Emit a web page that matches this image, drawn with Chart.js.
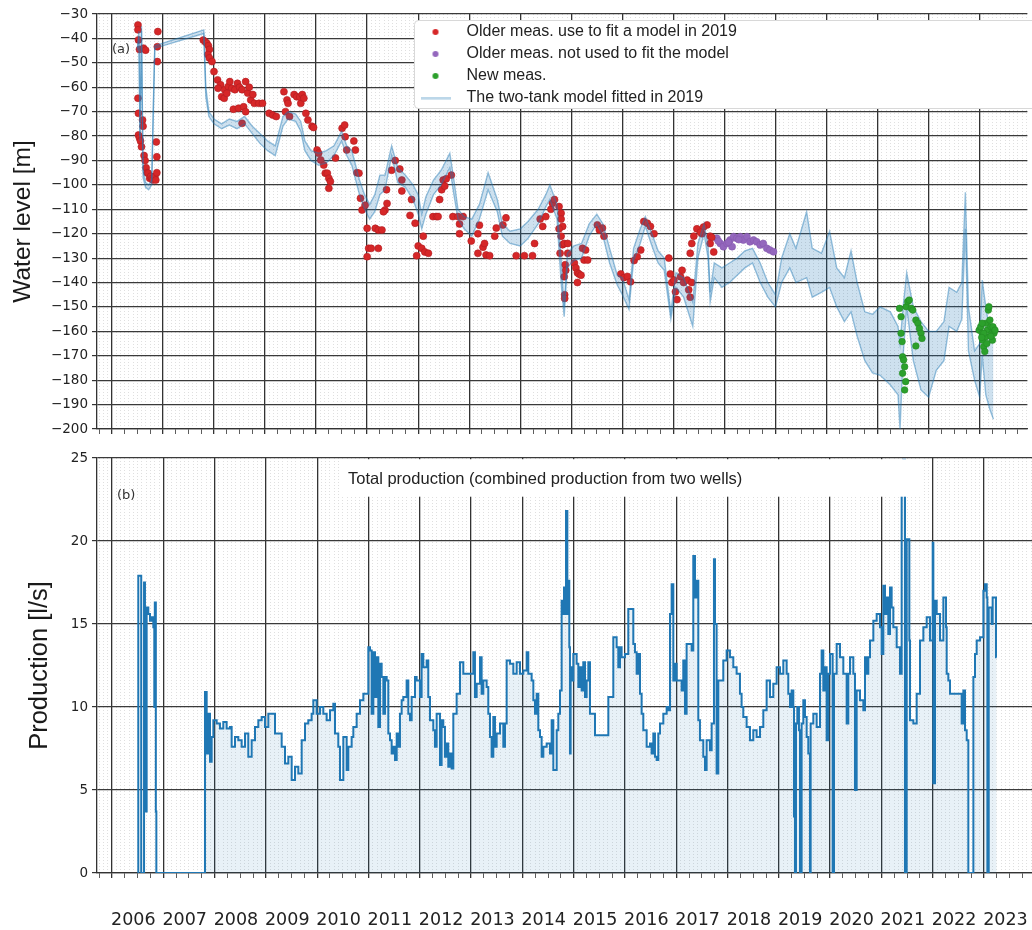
<!DOCTYPE html>
<html>
<head>
<meta charset="utf-8">
<script src="https://cdn.jsdelivr.net/npm/chart.js"></script>
<style>
  html, body { margin: 0; padding: 0; background: #fff; }
  #wrap { position: relative; width: 1032px; height: 930px; overflow: hidden; }
  #levelChart { position: absolute; left: 0; top: 0; }
  #prodChart { position: absolute; left: 0; top: 440px; }
</style>
</head>
<body>
<div id="wrap">
  <canvas id="levelChart" width="1032" height="445"></canvas>
  <canvas id="prodChart" width="1032" height="490"></canvas>
</div>
<script>
// year labels under the lower panel
const yearLabels = ['2006', '2007', '2008', '2009', '2010', '2011', '2012', '2013', '2014',
  '2015', '2016', '2017', '2018', '2019', '2020', '2021', '2022', '2023'];

// water level measurements [year, level m]
const olderFit = [
  [2006.51,-34.5],[2006.51,-36.5],[2006.52,-40.6],[2006.54,-44.5],[2006.62,-44],[2006.66,-44.8],
  [2006.51,-64.5],[2006.52,-70.7],[2006.52,-79.6],[2006.54,-80.8],[2006.56,-82],[2006.58,-84.4],
  [2006.60,-73.4],[2006.61,-76],[2006.63,-88],[2006.65,-90],[2006.67,-93],[2006.69,-95],
  [2006.71,-95.2],[2006.74,-97.3],[2006.76,-96.5],[2006.78,-97.5],[2006.80,-98],[2006.84,-96.5],
  [2006.86,-98],[2006.88,-95],[2006.88,-88.5],[2006.87,-82.4],[2006.90,-37.2],[2006.89,-43.4],[2006.89,-49.5],
  [2007.79,-40.7],[2007.83,-41.4],[2007.86,-42],[2007.89,-43],[2007.91,-44.5],[2007.88,-46.6],
  [2007.91,-48],[2007.96,-49.5],[2008.00,-53.6],[2008.07,-57],[2008.13,-59],[2008.08,-60.4],
  [2008.15,-63.9],[2008.21,-61],[2008.28,-59.7],[2008.31,-57.7],[2008.35,-60.4],[2008.41,-61],
  [2008.46,-58.4],[2008.50,-60],[2008.55,-61],[2008.62,-57.7],[2008.66,-62.4],[2008.69,-60],
  [2008.72,-65.2],[2008.76,-63],[2008.79,-66.6],[2008.88,-66.6],[2008.95,-66.6],[2008.38,-69],
  [2008.48,-68.6],[2008.58,-68],[2008.62,-70],[2008.55,-74.8],[2008.20,-64.5],[2008.25,-62.5],
  [2009.08,-70.7],[2009.15,-71.4],[2009.22,-72],[2009.37,-61.8],[2009.43,-65.2],[2009.45,-66.6],
  [2009.40,-70],[2009.48,-72],[2009.57,-63],[2009.62,-63.9],[2009.70,-66.6],[2009.68,-64],
  [2009.73,-63],[2009.76,-64.5],[2009.80,-70.7],[2009.84,-73.4],[2009.92,-76],[2009.95,-76.5],
  [2010.02,-85.7],[2010.05,-87],[2010.09,-89.8],[2010.15,-91.9],[2010.18,-95.2],[2010.22,-95.2],
  [2010.25,-97.3],[2010.28,-98.6],[2010.25,-101.4],[2010.38,-89],[2010.51,-76.8],[2010.56,-75.5],
  [2010.57,-80.3],[2010.60,-85.7],[2010.74,-82],[2010.77,-85.7],[2010.80,-95],[2010.84,-95.2],
  [2010.87,-105.5],[2010.90,-110.3],[2010.96,-108.3],[2011.00,-117.8],[2011.03,-126],[2011.00,-129.4],
  [2011.08,-126],[2011.16,-117.8],[2011.22,-118.5],[2011.29,-118.5],[2011.35,-110.3],[2011.39,-107.6],
  [2011.22,-126],[2011.32,-111],[2011.38,-102],[2011.48,-94],[2011.55,-90],[2011.64,-93.5],
  [2011.68,-98],[2011.68,-102.5],[2011.87,-106],[2011.84,-112.5],[2011.94,-115.7],[2012.10,-121],
  [2012.00,-125],[2011.97,-129],[2012.07,-126],[2012.13,-127.5],[2012.20,-128],
  [2012.42,-106],[2012.46,-102],[2012.49,-98],[2012.52,-100.5],[2012.55,-97.5],[2012.65,-96],
  [2012.29,-113],[2012.36,-113],[2012.39,-113],[2012.68,-113],[2012.78,-113],[2012.88,-113],
  [2012.81,-116],[2012.81,-120],
  [2013.04,-123],[2013.17,-128],[2013.27,-125.5],[2013.30,-124],[2013.33,-128.7],[2013.40,-129],
  [2013.20,-116.5],[2013.17,-120],[2013.50,-121],[2013.53,-117.7],[2013.66,-116.4],[2013.72,-113.5],
  [2013.92,-129],[2014.08,-129],[2014.24,-129],[2014.28,-124],[2014.39,-114],[2014.44,-117],
  [2014.50,-113],[2014.60,-110],[2014.63,-107.5],[2014.67,-106],[2014.76,-108.9],[2014.80,-111.6],
  [2014.80,-114],[2014.83,-117],[2014.76,-118],[2014.80,-121],[2014.83,-124.5],[2014.78,-128],
  [2014.86,-124],[2014.93,-124],[2014.93,-128],[2014.88,-132.7],[2014.86,-137.6],[2014.87,-145],
  [2014.87,-146.5],[2014.89,-135],
  [2015.06,-132],[2015.09,-134],[2015.12,-136],[2015.12,-140],[2015.15,-136.5],[2015.19,-137],
  [2015.22,-126],[2015.28,-126.7],[2015.25,-130.8],[2015.32,-130.8],[2015.51,-116.4],[2015.61,-117.7],
  [2015.64,-121],[2015.55,-118.5],
  [2015.97,-136.5],[2016.03,-138],[2016.10,-137.5],[2016.16,-139.7],[2016.23,-131],[2016.29,-129.4],
  [2016.36,-126.7],[2016.42,-115],[2016.49,-115.7],[2016.55,-117],[2016.62,-120],
  [2016.91,-130],[2016.94,-136.5],[2016.97,-140],[2017.04,-143.8],[2017.01,-139],[2017.07,-147],
  [2017.14,-137.6],[2017.17,-135],[2017.20,-140],[2017.27,-139],[2017.30,-143],[2017.33,-146],
  [2017.36,-140],[2017.33,-128],[2017.36,-124],[2017.40,-121],[2017.46,-118],[2017.56,-120],
  [2017.66,-116.4],[2017.72,-121],[2017.59,-117.3],[2017.75,-121.5],[2017.79,-127.5],[2017.72,-124],[2017.53,-119.4]
];

const olderNotUsed = [
  [2017.85,-121.9],[2017.92,-124],[2017.98,-125.3],[2018.05,-124],[2018.11,-122.6],[2018.15,-125.3],
  [2018.18,-121.2],[2018.24,-121.9],[2018.31,-121.2],[2018.37,-122.6],[2018.44,-121.2],[2018.50,-123.3],
  [2018.57,-122.6],[2018.63,-123.3],[2018.70,-124.6],[2018.76,-124],[2018.83,-126],[2018.89,-126.7],
  [2018.96,-127.4],[2017.88,-123],[2018.08,-123.5],[2018.28,-122.4]
];

const newMeas = [
  [2021.43,-150.6],[2021.46,-154],[2021.46,-160.8],[2021.48,-164.2],[2021.49,-170.4],[2021.51,-171.7],
  [2021.53,-174.5],[2021.49,-177.2],[2021.55,-180.6],[2021.53,-184],[2021.56,-149.9],[2021.59,-147.8],
  [2021.62,-147.2],[2021.66,-150.6],[2021.69,-151.3],[2021.75,-155.4],[2021.79,-156.7],[2021.82,-158.8],
  [2021.85,-160.8],[2021.87,-162.9],[2021.75,-166],
  [2022.99,-159.5],[2023.02,-158.1],[2023.05,-160.8],[2023.06,-163.6],[2023.08,-166.3],[2023.10,-168.3],
  [2023.12,-162.2],[2023.13,-156.7],[2023.15,-159.5],[2023.17,-151.3],[2023.18,-149.9],[2023.20,-155.4],
  [2023.22,-158.1],[2023.24,-160.8],[2023.25,-163.6],[2023.26,-158.1],[2023.28,-160.8],[2023.30,-159.5],
  [2023.05,-156.7],[2023.08,-160.8],[2023.14,-165],[2023.22,-162],[2023.04,-162.5]
];

// two-tank model envelope [year, upper, lower]
const modelBand = [
  [2006.50,-44,-45],[2006.53,-37,-39],[2006.55,-80,-82],[2006.58,-35,-37],[2006.61,-94,-97],
  [2006.66,-99,-101],[2006.72,-100,-102],[2006.78,-98,-100],[2006.82,-60,-62],[2006.84,-43,-44],
  [2007.80,-36.5,-38],[2007.84,-60,-64],[2007.90,-70,-72],[2008.00,-73,-75],[2008.15,-75,-77],
  [2008.30,-73,-75.5],[2008.45,-74,-77],[2008.60,-72,-75],[2008.75,-76,-79],[2008.90,-79,-83],
  [2009.05,-82,-86],[2009.20,-84,-88],[2009.35,-72,-76],[2009.45,-70,-73],[2009.60,-71,-74],
  [2009.70,-74,-78],[2009.78,-82,-86],[2009.90,-86,-90],[2010.05,-87,-92],[2010.20,-86,-91],
  [2010.35,-84,-88],[2010.50,-78,-82],[2010.60,-84,-88],[2010.70,-86,-92],[2010.85,-98,-104],
  [2010.95,-104,-110],[2011.05,-108,-114],[2011.15,-104,-111],[2011.25,-96,-104],[2011.35,-96,-102],
  [2011.48,-84,-88],[2011.60,-93,-99],[2011.75,-96,-101],[2011.90,-100,-106],[2012.00,-104,-112],
  [2012.07,-112,-118],[2012.15,-105,-112],[2012.30,-98,-104],[2012.45,-94,-100],[2012.62,-87,-93],
  [2012.70,-98,-104],[2012.78,-110,-114],[2012.90,-113,-118],[2013.05,-114,-121],[2013.20,-108,-114],
  [2013.37,-95,-102],[2013.55,-106,-111],[2013.65,-116,-121],[2013.80,-119,-124],[2014.00,-118,-125],
  [2014.15,-115,-122],[2014.35,-110,-116],[2014.50,-104,-109],[2014.58,-100,-106],[2014.72,-108,-114],
  [2014.80,-130,-140],[2014.86,-150,-154],[2014.92,-128,-134],[2015.05,-125,-131],[2015.20,-124,-130],
  [2015.35,-116,-121],[2015.50,-112,-116],[2015.62,-116,-121],[2015.75,-126,-132],[2015.90,-137,-141],
  [2016.00,-138,-145],[2016.13,-147,-151],[2016.22,-126,-131],[2016.35,-118,-124],[2016.45,-113,-117],
  [2016.58,-120,-125],[2016.70,-127,-132],[2016.82,-130,-135],[2016.95,-152,-155],[2017.05,-136,-142],
  [2017.20,-138,-146],[2017.38,-148,-158],[2017.48,-124,-130],[2017.60,-116,-120],[2017.68,-125,-130],
  [2017.72,-144,-148],[2017.80,-132,-138],[2017.95,-134,-142],[2018.10,-132,-140],[2018.25,-130,-137],
  [2018.40,-127,-134],[2018.55,-126,-132],[2018.70,-132,-140],[2018.85,-140,-146],[2019.00,-145,-150],
  [2019.12,-130,-140],[2019.28,-120,-134],[2019.40,-126,-140],[2019.61,-111,-138],[2019.72,-126,-146],
  [2019.90,-128,-144],[2020.06,-119,-142],[2020.20,-134,-150],[2020.35,-138,-156],[2020.48,-127,-152],
  [2020.60,-140,-162],[2020.75,-152,-172],[2020.90,-153,-177],[2021.05,-150,-178],[2021.25,-152,-182],
  [2021.40,-158,-186],[2021.44,-165,-200],[2021.50,-150,-170],[2021.57,-136,-150],[2021.70,-150,-172],
  [2021.85,-156,-184],[2022.00,-160,-187],[2022.15,-160,-176],[2022.30,-156,-172],[2022.40,-142,-158],
  [2022.55,-144,-160],[2022.65,-140,-155],[2022.72,-103,-118],[2022.78,-150,-168],[2022.90,-168,-180],
  [2023.00,-165,-187],[2023.05,-139,-170],[2023.12,-150,-186],[2023.20,-160,-192],[2023.27,-163,-196]
];

// total production [year, l/s], step values
const production = [
  [2006.50,0],[2006.513,17.9],[2006.57,0],[2006.625,17.5],[2006.643,3.7],[2006.676,16.0],[2006.708,15.6],
  [2006.741,15.2],[2006.773,15.4],[2006.806,14.8],[2006.825,10.0],[2006.835,16.3],[2006.855,3.7],[2006.865,0],
  [2007.81,0],
  [2007.813,10.9],[2007.846,7.2],[2007.878,9.6],[2007.911,6.7],[2007.943,8.2],[2007.976,9.2],[2008.041,9.0],
  [2008.105,8.7],[2008.170,9.1],[2008.235,8.7],[2008.300,8.8],[2008.333,7.6],[2008.398,8.2],[2008.463,8.0],
  [2008.528,7.6],[2008.593,8.4],[2008.658,7.0],[2008.723,8.0],[2008.788,8.8],[2008.853,9.2],[2008.918,9.4],
  [2008.983,8.8],[2009.048,9.6],[2009.113,9.6],[2009.178,8.4],[2009.243,8.4],[2009.308,7.6],[2009.373,6.6],
  [2009.438,7.0],[2009.503,5.6],[2009.568,6.4],[2009.633,6.0],[2009.698,8.0],[2009.763,9.0],[2009.827,9.2],
  [2009.892,9.6],[2009.925,10.4],[2009.990,9.6],[2010.055,10.0],[2010.120,9.6],[2010.185,9.2],[2010.250,9.8],
  [2010.315,10.2],[2010.347,8.4],[2010.412,7.6],[2010.445,5.6],[2010.510,8.2],[2010.575,6.2],[2010.607,7.6],
  [2010.672,8.2],[2010.705,8.8],[2010.770,9.6],[2010.835,10.4],[2010.900,10.8],[2010.997,13.6],[2011.030,13.4],
  [2011.062,9.6],[2011.095,13.3],[2011.127,10.6],[2011.160,13.0],[2011.192,8.8],[2011.225,12.6],[2011.257,11.8],
  [2011.290,9.6],[2011.322,11.8],[2011.355,11.6],[2011.387,8.4],[2011.420,8.0],[2011.452,7.2],[2011.484,7.6],
  [2011.517,6.8],[2011.550,8.4],[2011.582,7.6],[2011.614,9.6],[2011.647,10.4],[2011.679,10.6],[2011.744,11.6],
  [2011.777,9.6],[2011.809,9.2],[2011.842,10.6],[2011.907,11.8],
  [2011.939,11.6],[2012.004,10.6],[2012.036,13.2],[2012.069,12.4],[2012.134,12.8],[2012.166,10.6],[2012.199,9.2],
  [2012.264,8.6],[2012.296,7.6],[2012.329,9.6],[2012.394,6.5],[2012.426,9.2],[2012.459,8.8],[2012.491,7.0],
  [2012.524,7.8],[2012.556,6.4],[2012.589,7.2],[2012.621,6.3],[2012.654,9.6],[2012.719,10.8],[2012.784,12.7],
  [2012.849,12.0],[2012.914,12.0],[2012.979,12.0],[2013.044,13.3],[2013.076,10.6],[2013.109,11.4],[2013.174,13.0],
  [2013.206,10.8],[2013.239,11.6],[2013.304,11.2],[2013.336,9.6],[2013.369,8.2],[2013.401,7.0],[2013.434,9.4],
  [2013.466,7.6],[2013.499,8.4],[2013.564,9.0],[2013.629,7.6],[2013.661,9.0],[2013.694,12.8],[2013.759,12.6],
  [2013.824,12.0],[2013.889,12.7],[2013.954,12.0],[2014.019,12.2],[2014.084,13.3],[2014.116,12.0],[2014.181,11.6],
  [2014.214,10.4],[2014.246,9.6],[2014.279,10.8],[2014.311,8.6],[2014.344,8.2],[2014.376,7.0],[2014.409,7.6],
  [2014.474,7.8],[2014.539,7.2],[2014.571,9.2],[2014.604,6.2],[2014.669,8.6],[2014.701,9.6],[2014.734,11.0],
  [2014.766,16.4],[2014.799,15.6],[2014.812,17.2],[2014.831,15.6],[2014.851,21.8],[2014.877,15.6],[2014.896,17.6],
  [2014.915,13.6],[2014.928,7.2],[2014.941,12.4],[2014.961,11.6],[2014.993,13.2],[2015.058,12.6],[2015.091,11.2],
  [2015.123,12.4],[2015.156,11.0],[2015.188,12.7],[2015.221,10.6],[2015.253,11.6],[2015.286,12.7],[2015.318,9.6],
  [2015.416,8.3],[2015.676,10.6],[2015.773,14.2],[2015.838,13.6],[2015.870,12.4],[2015.903,13.6],[2015.935,13.0],
  [2016.000,13.2],[2016.065,15.9],[2016.163,13.8],[2016.195,13.3],[2016.228,12.0],[2016.260,13.2],[2016.293,10.8],
  [2016.325,9.6],[2016.358,8.6],[2016.423,7.6],[2016.488,7.8],[2016.520,7.2],[2016.553,8.4],[2016.585,7.0],
  [2016.618,6.8],[2016.650,8.4],[2016.683,9.0],[2016.748,9.6],[2016.813,10.0],[2016.845,9.8],[2016.878,15.6],
  [2016.910,17.4],[2016.943,11.6],[2016.975,12.6],[2017.008,11.6],[2017.105,11.0],[2017.137,12.8],[2017.170,9.6],
  [2017.202,13.8],[2017.300,13.4],[2017.332,19.1],[2017.365,16.6],[2017.397,17.6],[2017.430,9.2],[2017.462,8.0],
  [2017.527,7.0],[2017.560,6.2],[2017.592,8.0],[2017.657,7.4],[2017.690,9.0],[2017.735,18.9],[2017.755,15.0],
  [2017.787,6.0],[2017.820,11.6],[2017.917,12.8],[2017.982,13.4],[2018.047,13.0],[2018.112,12.4],[2018.177,12.0],
  [2018.242,10.8],[2018.274,10.0],[2018.307,9.4],[2018.372,8.8],[2018.437,8.0],[2018.502,8.6],[2018.567,8.2],
  [2018.632,8.8],[2018.697,9.8],[2018.762,11.6],[2018.827,10.6],[2018.892,11.4],[2018.957,12.4],[2019.022,12.0],
  [2019.087,12.8],[2019.152,12.0],[2019.184,10.8],[2019.217,10.0],[2019.249,11.0],[2019.282,10.0],[2019.295,3.4],
  [2019.314,0],[2019.334,9.0],[2019.360,10.0],[2019.392,8.6],[2019.412,0],[2019.444,9.0],[2019.477,10.4],
  [2019.509,9.4],[2019.542,8.2],[2019.574,7.2],[2019.607,0],[2019.620,9.0],[2019.672,9.6],[2019.737,8.8],
  [2019.802,12.0],[2019.834,13.4],[2019.867,11.0],[2019.899,12.4],[2019.932,8.0],[2019.964,12.0],[2019.997,13.2],
  [2020.049,0],[2020.075,12.0],[2020.127,13.8],[2020.192,13.0],[2020.257,12.0],[2020.322,9.0],[2020.354,12.0],
  [2020.387,13.0],[2020.452,12.0],[2020.484,5.0],[2020.517,11.0],[2020.582,10.4],[2020.647,9.8],[2020.679,13.0],
  [2020.712,12.0],[2020.744,13.0],[2020.777,14.0],[2020.842,15.2],[2020.907,15.6],[2020.972,14.8],[2021.004,13.2],
  [2021.037,17.3],[2021.069,15.6],[2021.102,16.6],[2021.134,14.4],[2021.167,17.2],[2021.199,16.0],[2021.232,14.8],
  [2021.297,13.6],[2021.362,12.0],[2021.394,22.9],[2021.427,24.9],[2021.459,0],[2021.492,20.1],[2021.524,20.1],
  [2021.544,14.0],[2021.557,9.2],[2021.622,9.0],[2021.687,10.8],[2021.752,14.0],[2021.817,14.8],[2021.882,15.4],
  [2021.947,14.0],[2021.999,19.9],[2022.012,5.4],[2022.044,16.4],[2022.077,15.6],[2022.142,14.0],[2022.207,16.6],
  [2022.259,14.8],[2022.272,12.0],[2022.304,11.6],[2022.337,10.8],[2022.564,9.0],[2022.597,11.0],[2022.629,8.6],
  [2022.662,8.0],[2022.694,0],[2022.792,11.8],[2022.824,13.2],[2022.857,14.0],[2022.922,14.2],[2022.987,17.0],
  [2023.019,17.4],[2023.052,16.6],[2023.065,0],[2023.091,16.0],[2023.149,15.0],[2023.168,16.6],[2023.214,16.6],
  [2023.233,13.0],[2023.246,13.0]
];

const X_MIN = 2005.708, X_MAX = 2023.935;
const BLUE = '#1f77b4';
const BAND_LINE = 'rgba(31,119,180,0.45)';
const TEXT = '#222';

Chart.defaults.font.family = '"DejaVu Sans", sans-serif';
Chart.defaults.color = TEXT;

// monthly ticks: years are the black lines, the rest dotted
const monthTicks = [];
for (let y = 2005; y <= 2024; y++) {
  for (let m = 0; m < 12; m++) {
    const v = y + m / 12;
    if (v >= X_MIN && v <= X_MAX) monthTicks.push(v);
  }
}
function isYear(v) { return Math.abs(v - Math.round(v)) < 1e-6; }
function isQuarter(v) { return Math.abs(v * 4 - Math.round(v * 4)) < 1e-6; }

function xAxis(height, extra) {
  return Object.assign({
    type: 'linear',
    min: X_MIN,
    max: X_MAX,
    afterBuildTicks: s => { s.ticks = monthTicks.map(v => ({ value: v })); },
    // keep the plot flush with the right edge
    afterFit: s => { s.height = height; s.paddingLeft = 0; s.paddingRight = 0; },
    grid: {
      color: c => c.tick && isYear(c.tick.value) ? '#333' : 'rgba(0,0,0,0.16)',
      lineWidth: c => c.tick && isYear(c.tick.value) ? 1.3 : 0.8,
      tickColor: c => c.tick && isQuarter(c.tick.value) ? '#333' : 'rgba(0,0,0,0)',
      tickLength: 5
    },
    border: {
      color: '#333',
      width: 1.3,
      dash: c => (c.tick && !isYear(c.tick.value)) ? [1, 2] : []
    }
  }, extra);
}

function yAxis(min, max, step, title, titlePad, titleSize) {
  return {
    min: min,
    max: max,
    afterFit: s => { s.width = 97; },
    ticks: {
      stepSize: step,
      padding: 4,
      color: TEXT,
      font: { size: 13.5 },
      callback: v => String(v).replace('-', '\u2212')
    },
    grid: { color: '#3a3a3a', lineWidth: 1.2, tickLength: 5, tickColor: '#333' },
    border: { color: '#333', width: 1.3 },
    title: {
      display: true,
      text: title,
      color: '#1a1a1a',
      font: { family: '"Liberation Sans", sans-serif', size: titleSize },
      padding: { top: titlePad, bottom: 0 }
    }
  };
}

// legend icons
function dotIcon(color) {
  const c = document.createElement('canvas');
  c.width = 8; c.height = 8;
  const g = c.getContext('2d');
  g.fillStyle = color;
  g.beginPath(); g.arc(4, 4, 3, 0, Math.PI * 2); g.fill();
  return c;
}
function lineIcon(color) {
  const c = document.createElement('canvas');
  c.width = 30; c.height = 3;
  const g = c.getContext('2d');
  g.fillStyle = color;
  g.fillRect(0, 0.5, 30, 2);
  return c;
}
const icons = [dotIcon('#d62728'), dotIcon('#9467bd'), dotIcon('#2ca02c'), lineIcon('rgba(31,119,180,0.4)')];

const toXY = (arr, k) => arr.map(p => ({ x: p[0], y: p[k] }));

// legend sits in a white box inside the plot
const legendPanel = {
  id: 'legendPanel',
  afterLayout(chart) {
    const lg = chart.legend;
    lg.left = 406.5;
    lg.top = 18;
    lg.right = chart.width;
    lg.bottom = 200;
  },
  afterDatasetsDraw(chart) {
    const ctx = chart.ctx;
    ctx.save();
    ctx.fillStyle = '#fff';
    ctx.strokeStyle = '#d8d8d8';
    ctx.lineWidth = 1;
    ctx.beginPath();
    if (ctx.roundRect) ctx.roundRect(414.5, 20.5, 640, 88, 4); else ctx.rect(414.5, 20.5, 640, 88);
    ctx.fill();
    ctx.stroke();
    ctx.fillStyle = '#333';
    ctx.font = '13px "DejaVu Sans"';
    ctx.textBaseline = 'middle';
    ctx.fillText('(a)', 112, 50);
    ctx.restore();
    chart.legend.draw();
  }
};

new Chart(document.getElementById('levelChart'), {
  type: 'scatter',
  data: {
    datasets: [
      {
        label: 'Older meas. use to fit a model in 2019',
        data: toXY(olderFit, 1),
        backgroundColor: '#d62728',
        borderColor: '#b01c22',
        borderWidth: 0.6,
        pointRadius: 3.5,
        order: 2
      },
      {
        label: 'Older meas. not used to fit the model',
        data: toXY(olderNotUsed, 1),
        backgroundColor: '#9467bd',
        borderColor: '#8659b0',
        borderWidth: 0.6,
        pointRadius: 3.5,
        order: 2
      },
      {
        label: 'New meas.',
        data: toXY(newMeas, 1),
        backgroundColor: '#2ca02c',
        borderColor: '#238a23',
        borderWidth: 0.6,
        pointRadius: 3.3,
        order: 0
      },
      {
        label: 'The two-tank model fitted in 2019',
        type: 'line',
        data: toXY(modelBand, 1),
        borderColor: BAND_LINE,
        borderWidth: 1.4,
        pointRadius: 0,
        tension: 0,
        fill: '+1',
        backgroundColor: 'rgba(31,119,180,0.22)',
        order: 1
      },
      {
        label: 'model lower',
        type: 'line',
        data: toXY(modelBand, 2),
        borderColor: BAND_LINE,
        borderWidth: 1.4,
        pointRadius: 0,
        tension: 0,
        fill: false,
        order: 1
      }
    ]
  },
  options: {
    responsive: false,
    animation: false,
    layout: { padding: { top: 14, left: 0, right: 0, bottom: 0 } },
    scales: {
      x: xAxis(16, { ticks: { display: false } }),
      y: yAxis(-200, -30, 10, 'Water level [m]', 9, 24.5)
    },
    plugins: {
      legend: {
        position: 'chartArea',
        align: 'start',
        labels: {
          usePointStyle: true,
          pointStyleWidth: 46,
          padding: 6,
          color: TEXT,
          font: { family: '"Liberation Sans", sans-serif', size: 16 },
          sort: (a, b) => a.datasetIndex - b.datasetIndex,
          generateLabels: chart => Chart.defaults.plugins.legend.labels.generateLabels(chart)
            .filter(it => it.datasetIndex < 4)
            .map(it => Object.assign(it, { pointStyle: icons[it.datasetIndex] }))
        }
      },
      tooltip: { enabled: false }
    }
  },
  plugins: [legendPanel]
});

// title box of the production panel
const prodNote = {
  id: 'prodNote',
  afterDatasetsDraw(chart) {
    const ctx = chart.ctx;
    const top = chart.chartArea.top;
    ctx.save();
    ctx.fillStyle = '#fff';
    ctx.fillRect(340, top + 1.2, 581, 37.5);
    ctx.fillStyle = TEXT;
    ctx.textBaseline = 'middle';
    ctx.font = '16.5px "Liberation Sans"';
    ctx.fillText('Total production (combined production from two wells)', 348, top + 21);
    ctx.fillStyle = '#333';
    ctx.font = '13px "DejaVu Sans"';
    ctx.fillText('(b)', 117, top + 38);
    ctx.restore();
  }
};

const splitAt = production.findIndex(p => p[0] >= 2007.8);
const prodEarly = production.slice(0, splitAt + 1);
const prodMain = production.slice(splitAt);

new Chart(document.getElementById('prodChart'), {
  type: 'line',
  data: {
    datasets: [
      {
        data: toXY(prodEarly, 1),
        borderColor: BLUE,
        borderWidth: 2,
        pointRadius: 0,
        stepped: true,
        fill: false
      },
      {
        data: toXY(prodMain, 1),
        borderColor: BLUE,
        borderWidth: 2,
        pointRadius: 0,
        stepped: true,
        fill: 'origin',
        backgroundColor: 'rgba(31,119,180,0.1)'
      }
    ]
  },
  options: {
    responsive: false,
    animation: false,
    layout: { padding: { top: 18, left: 0, right: 0, bottom: 0 } },
    scales: {
      x: xAxis(57, {
        ticks: {
          autoSkip: false,
          maxRotation: 0,
          minRotation: 0,
          padding: 32,
          color: TEXT,
          font: { size: 17.5 },
          callback: v => {
            const yr = Math.floor(v + 1e-9);
            const m = Math.round((v - yr) * 12);
            const i = yr - 2006;
            return (m === 5 && i >= 0 && i < yearLabels.length) ? yearLabels[i] : '';
          }
        }
      }),
      y: yAxis(0, 25, 5, 'Production [l/s]', 24.5, 25.5)
    },
    plugins: {
      legend: { display: false },
      tooltip: { enabled: false }
    }
  },
  plugins: [prodNote]
});
</script>
</body>
</html>
